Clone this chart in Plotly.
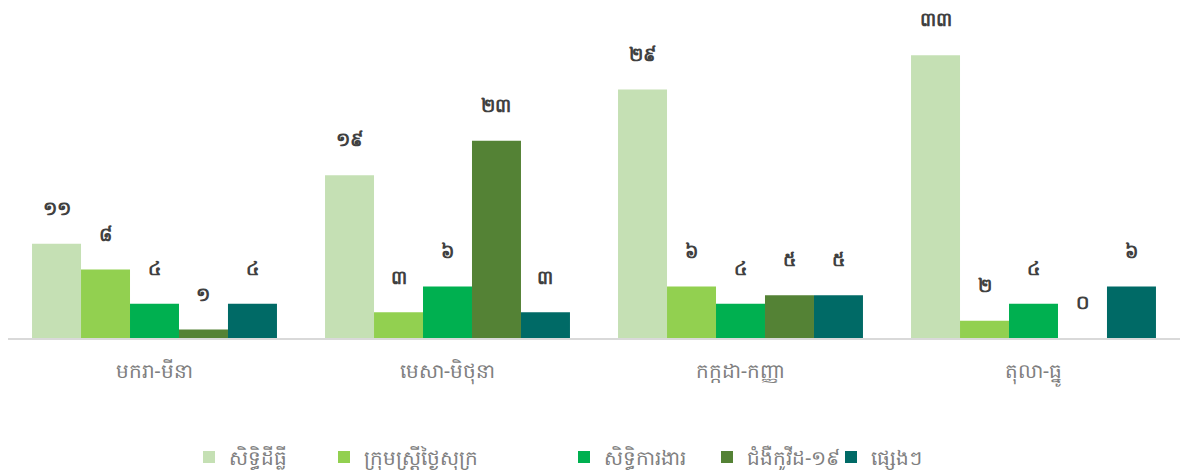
import plotly.graph_objects as go

categories = ["មករា-មីនា", "មេសា-មិថុនា", "កក្កដា-កញ្ញា", "តុលា-ធ្នូ"]
series_names = ["សិទ្ធិដីធ្លី", "ក្រុមស្ត្រីថ្ងៃសុក្រ", "សិទ្ធិការងារ", "ជំងឺកូវីដ-១៩", "ផ្សេងៗ"]
land_rights = [11, 19, 29, 33]
friday_women = [8, 3, 6, 2]
labor_rights = [4, 6, 4, 4]
covid19 = [1, 23, 5, 0]
others = [4, 3, 5, 6]
series_values = [land_rights, friday_women, labor_rights, covid19, others]
colors = ["#C5E0B4", "#92D050", "#00B050", "#548235", "#006A66"]

# left pixel position of each legend entry (container coordinates)
legend_px = [189, 324, 564, 707, 831]

KHMER_DIGITS = "០១២៣៤៥៦៧៨៩"


def khmer_num(n):
    return "".join(KHMER_DIGITS[int(c)] for c in str(n))


W, H = 1183, 470
fig = go.Figure()
legend_ids = ["legend", "legend2", "legend3", "legend4", "legend5"]
for name, vals, col, lid in zip(series_names, series_values, colors, legend_ids):
    fig.add_trace(go.Bar(
        name=name, x=categories, y=vals, marker_color=col,
        marker_line_width=0, legend=lid,
        text=[khmer_num(v) + "<br><span style='font-size:4px'> </span>" for v in vals],
        textposition="outside", cliponaxis=False,
        textfont=dict(size=19, color="#404040", weight="bold"),
        hoverinfo="skip",
    ))

layout_legends = {}
for lid, px in zip(legend_ids, legend_px):
    layout_legends[lid] = dict(
        xref="container", yref="container", x=px / W, xanchor="left",
        y=1 - 457 / H, yanchor="middle", orientation="h",
        font=dict(size=20, color="#7F7F7F"), bgcolor="rgba(0,0,0,0)",
        itemwidth=30,
    )

fig.update_layout(
    barmode="group", bargap=0.164, bargroupgap=0,
    width=W, height=H,
    margin=dict(l=8, r=3, t=38, b=132, autoexpand=False),
    paper_bgcolor="white", plot_bgcolor="white",
    font=dict(family="Noto Sans, DejaVu Sans, sans-serif", color="#7F7F7F"),
    showlegend=True,
    **layout_legends,
)
fig.update_xaxes(showline=True, linecolor="#D9D9D9", linewidth=2, ticks="",
                 ticklabelstandoff=14,
                 tickfont=dict(size=20, color="#7F7F7F"), showgrid=False)
fig.update_yaxes(range=[0, 35], visible=False, showgrid=False)

fig.write_html("out.html", config={"displayModeBar": False},
               post_script="document.body.style.margin='0px';")
